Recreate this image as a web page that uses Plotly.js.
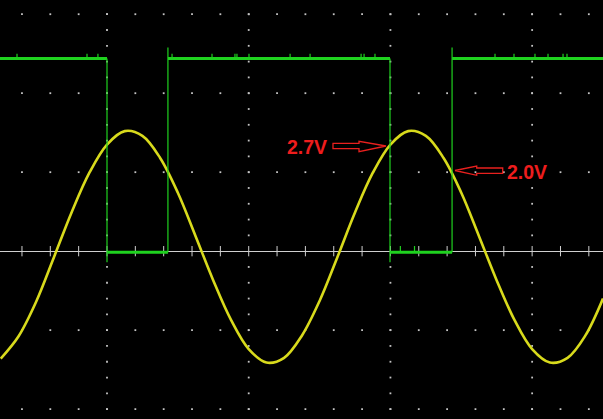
<!DOCTYPE html>
<html>
<head>
<meta charset="utf-8">
<script src="https://cdn.plot.ly/plotly-3.0.1.min.js"></script>
<style>html,body{margin:0;padding:0;background:#000;}#chart{width:603px;height:419px;}</style>
</head>
<body>
<div id="chart"></div>
<script>
// Time axis in screen divisions, voltage in vertical divisions
var sineTime = [-0.75,-0.625,-0.5,-0.375,-0.25,-0.125,0,0.125,0.25,0.375,0.5,0.625,0.75,0.875,1.0,1.125,1.25,1.375,1.5,1.625,1.75,1.875,2.0,2.125,2.25,2.375,2.5,2.625,2.75,2.875,3.0,3.125,3.25,3.375,3.5];
var sineVolts = [-1.36,-1.08,-0.64,-0.08,0.49,0.99,1.35,1.52,1.46,1.18,0.74,0.19,-0.37,-0.87,-1.24,-1.41,-1.35,-1.07,-0.63,-0.08,0.49,0.99,1.35,1.52,1.46,1.18,0.74,0.19,-0.37,-0.87,-1.24,-1.41,-1.35,-1.07,-0.60];

var edgeTimes = [0, 0.430, 1.997, 2.435];
var edgeDirs = ['fall','rise','fall','rise'];
var highLevel = 2.44;
var lowLevel = -0.015;
var overshoot = 2.58;
var undershoot = -0.14;
var glitchHigh = [-0.635,-0.141,-0.064,0.459,0.741,0.903,0.917,1.002,1.292,1.433,1.793,1.814,1.891,2.738,2.872,3.020,3.112,3.218,3.246];
var glitchLow = [2.07,2.17];

var majorX = [0,1,2,3];
var dotRowsY = [-2,-1,1,2,3];
var xMin = -0.755, xMax = 3.5, yMin = -2.125, yMax = 3.18;

var traces = [];

// grid dots
var gx = [], gy = [];
for (var k = -4; k <= 17; k++) {
  var xv = k * 0.2;
  if (xv < xMin || xv > xMax) continue;
  dotRowsY.forEach(function(r){ gx.push(xv); gy.push(r); });
}
majorX.forEach(function(m){
  for (var j = -10; j <= 16; j++) { var yv = j*0.2; if (Math.abs(yv) < 1e-9) continue; gx.push(m); gy.push(yv); }
});
traces.push({x:gx, y:gy, mode:'markers', type:'scatter', hoverinfo:'skip',
  marker:{symbol:'square', size:1.8, color:'#c4c4c4', line:{width:0}}});

// center line ticks
var tx = [], ty = [];
for (var k2 = -4; k2 <= 17; k2++) {
  var xt = k2*0.2; if (xt < xMin || xt > xMax) continue;
  tx.push(xt, xt, null); ty.push(-0.065, 0.065, null);
}
traces.push({x:tx, y:ty, mode:'lines', type:'scatter', hoverinfo:'skip', line:{color:'#d0d0d0', width:1}});

// sine trace
traces.push({x:sineTime, y:sineVolts, mode:'lines', type:'scatter', hoverinfo:'skip',
  line:{color:'#d8da1c', width:2.6, shape:'spline', smoothing:1}});

// square wave horizontal levels
var bounds = [xMin].concat(edgeTimes).concat([xMax]);
var hx = [], hy = [];
var lvl = highLevel;
for (var i = 0; i < bounds.length-1; i++) {
  hx.push(bounds[i], bounds[i+1], null); hy.push(lvl, lvl, null);
  lvl = (lvl === highLevel) ? lowLevel : highLevel;
}
traces.push({x:hx, y:hy, mode:'lines', type:'scatter', hoverinfo:'skip', line:{color:'#1fd21f', width:3}});

// edges and glitches
var ex = [], ey = [];
edgeTimes.forEach(function(t, idx){
  if (edgeDirs[idx] === 'fall') { ex.push(t, t, null); ey.push(highLevel, undershoot, null); }
  else { ex.push(t, t, null); ey.push(lowLevel, overshoot, null); }
});
glitchHigh.forEach(function(t){ ex.push(t, t, null); ey.push(highLevel, highLevel+0.06, null); });
glitchLow.forEach(function(t){ ex.push(t, t, null); ey.push(lowLevel, lowLevel+0.08, null); });
traces.push({x:ex, y:ey, mode:'lines', type:'scatter', hoverinfo:'skip', line:{color:'#1fd21f', width:1.2}});

function px(x){ return x/603; }
function py(y){ return 1 - y/419; }
function path(pts){
  return 'M ' + pts.map(function(p){ return px(p[0]).toFixed(5)+','+py(p[1]).toFixed(5); }).join(' L ') + ' Z';
}
var arrow1 = [[333,143.3],[359,143.3],[359,141.3],[386,146],[359,151.7],[359,148.7],[333,148.7]];
var arrow2 = [[455,170.5],[476.7,166],[476.7,168],[502.7,168],[502.7,173.3],[476.7,173.3],[476.7,175.3]];

var layout = {
  width:603, height:419,
  margin:{l:0,r:0,t:0,b:0,pad:0},
  paper_bgcolor:'#000', plot_bgcolor:'#000',
  showlegend:false,
  xaxis:{range:[xMin,xMax], showgrid:false, zeroline:false, showticklabels:false, ticks:'', showline:false, fixedrange:true},
  yaxis:{range:[yMin,yMax], showgrid:false, zeroline:true, zerolinecolor:'#d0d0d0', zerolinewidth:1, showticklabels:false, ticks:'', showline:false, fixedrange:true},
  shapes:[
    {type:'path', xref:'paper', yref:'paper', path:path(arrow1), line:{color:'#e8201e', width:1.3}, fillcolor:'rgba(0,0,0,0)'},
    {type:'path', xref:'paper', yref:'paper', path:path(arrow2), line:{color:'#e8201e', width:1.3}, fillcolor:'rgba(0,0,0,0)'}
  ],
  annotations:[
    {text:'<b>2.7V</b>', xref:'paper', yref:'paper', x:px(307), y:py(146.5), showarrow:false, xanchor:'center', yanchor:'middle',
     font:{family:'Liberation Sans, Arial, sans-serif', size:19.5, color:'#ee1d1d'}},
    {text:'<b>2.0V</b>', xref:'paper', yref:'paper', x:px(526.5), y:py(171.5), showarrow:false, xanchor:'center', yanchor:'middle',
     font:{family:'Liberation Sans, Arial, sans-serif', size:19.5, color:'#ee1d1d'}}
  ]
};
Plotly.newPlot('chart', traces, layout, {displayModeBar:false, staticPlot:true});
</script>
</body>
</html>
